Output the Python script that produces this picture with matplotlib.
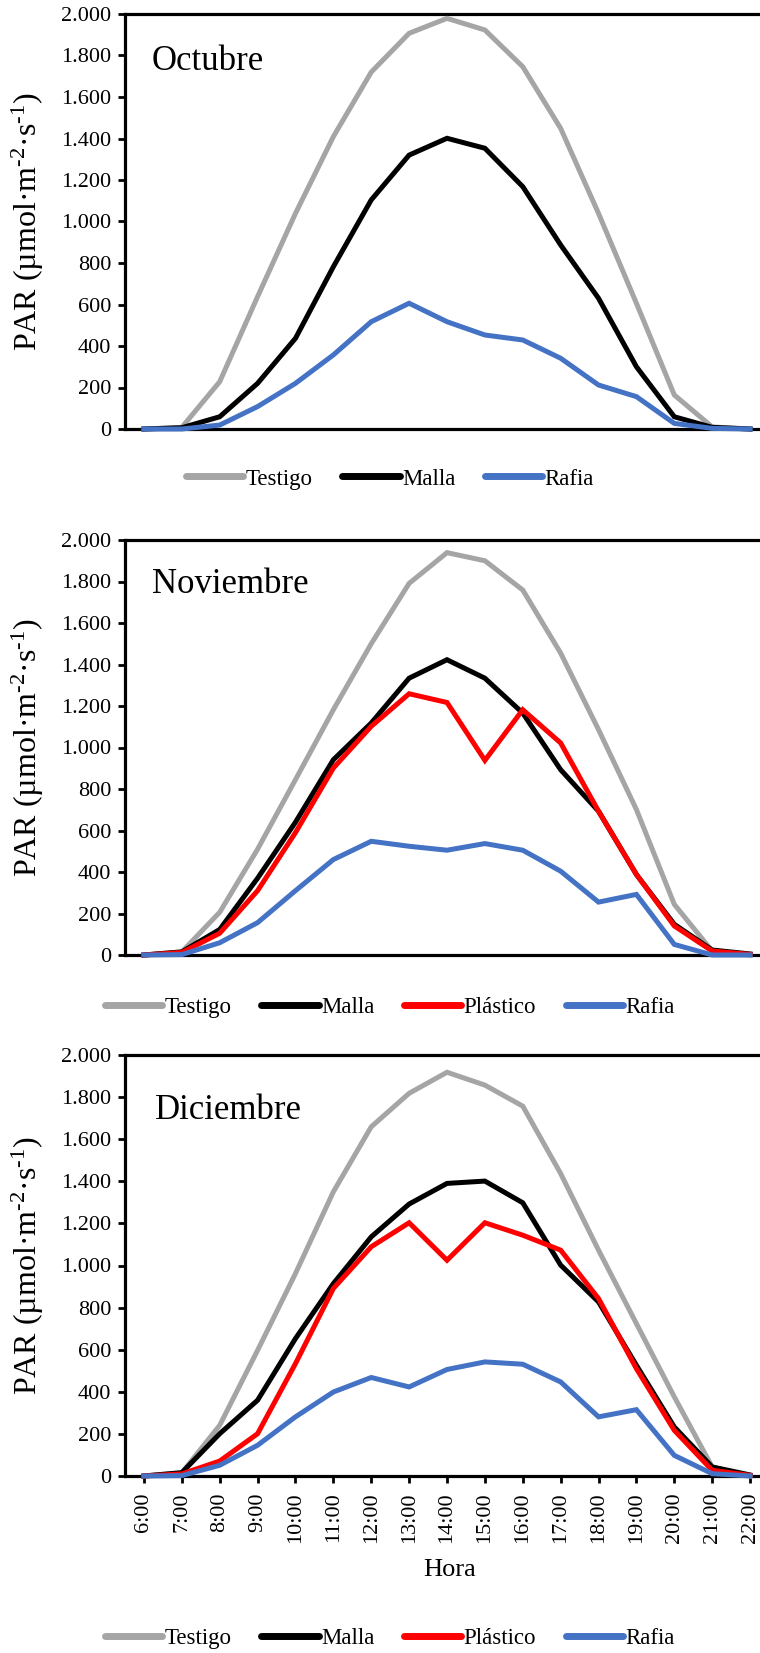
import matplotlib
matplotlib.use("Agg")
import matplotlib.pyplot as plt
from matplotlib.ticker import FuncFormatter
from matplotlib.lines import Line2D

plt.rcParams['font.family'] = ['Liberation Serif', 'DejaVu Serif']
plt.rcParams['mathtext.fontset'] = 'custom'
plt.rcParams['mathtext.rm'] = 'Liberation Serif'
plt.rcParams['mathtext.it'] = 'Liberation Serif:italic'
plt.rcParams['mathtext.bf'] = 'Liberation Serif:bold'

# ---------------- data ----------------
hours = ["6:00", "7:00", "8:00", "9:00", "10:00", "11:00", "12:00", "13:00", "14:00",
         "15:00", "16:00", "17:00", "18:00", "19:00", "20:00", "21:00", "22:00"]

oct_testigo = [0, 8, 228, 638, 1039, 1409, 1720, 1907, 1979, 1923, 1746, 1449, 1039, 606, 164, 10, 0]
oct_malla   = [0, 6, 59, 220, 437, 782, 1104, 1320, 1401, 1353, 1168, 887, 630, 300, 59, 8, 0]
oct_rafia   = [0, 0, 19, 108, 220, 357, 517, 606, 517, 453, 429, 341, 212, 156, 27, 3, 0]

nov_testigo  = [0, 15, 206, 510, 845, 1182, 1500, 1791, 1939, 1900, 1759, 1455, 1086, 701, 244, 19, 0]
nov_malla    = [0, 15, 123, 370, 640, 941, 1118, 1334, 1423, 1334, 1166, 893, 693, 388, 148, 24, 5]
nov_plastico = [0, 12, 105, 310, 590, 901, 1102, 1259, 1217, 938, 1182, 1022, 693, 388, 140, 19, 3]
nov_rafia    = [0, 2, 59, 156, 310, 460, 548, 524, 505, 537, 505, 404, 255, 292, 51, 0, 0]

dic_testigo  = [0, 15, 241, 597, 962, 1350, 1659, 1818, 1918, 1857, 1757, 1437, 1073, 724, 376, 43, 0]
dic_malla    = [0, 16, 201, 360, 653, 914, 1136, 1292, 1390, 1401, 1298, 1002, 827, 526, 233, 43, 5]
dic_plastico = [0, 10, 71, 201, 534, 891, 1089, 1203, 1025, 1203, 1144, 1073, 843, 510, 217, 27, 3]
dic_rafia    = [0, 2, 51, 146, 281, 399, 468, 423, 506, 542, 531, 447, 281, 315, 98, 11, 0]

months = ["Octubre", "Noviembre", "Diciembre"]
series_names = ["Testigo", "Malla", "Plástico", "Rafia"]
colors = {"Testigo": "#A5A5A5", "Malla": "#000000", "Plástico": "#FF0000", "Rafia": "#4472C4"}

panels = [
    {"Testigo": oct_testigo, "Malla": oct_malla, "Rafia": oct_rafia},
    {"Testigo": nov_testigo, "Malla": nov_malla, "Plástico": nov_plastico, "Rafia": nov_rafia},
    {"Testigo": dic_testigo, "Malla": dic_malla, "Plástico": dic_plastico, "Rafia": dic_rafia},
]

# ---------------- layout ----------------
W, H = 760, 1653
fig = plt.figure(figsize=(W / 100, H / 100), dpi=100)

ax_left, ax_right = 125, 769
boxes = [(14, 429), (540, 955), (1055, 1476)]
legend_y = [479, 1007, 1638]
title_pos = [(0.042, 0.865), (0.042, 0.872), (0.046, 0.848)]
ylabel_text = r"PAR (µmol·m$^{\text{-}2}$·s$^{\text{-}1}$)"

fmt = FuncFormatter(lambda v, p: f"{int(v):,}".replace(",", "."))
x = list(range(len(hours)))

for i, (data, (top, bot)) in enumerate(zip(panels, boxes)):
    ax = fig.add_axes([ax_left / W, 1 - bot / H, (ax_right - ax_left) / W, (bot - top) / H])
    handles = []
    for name in series_names:
        if name in data:
            ln, = ax.plot(x, data[name], color=colors[name], lw=3.6, solid_joinstyle='miter',
                          clip_on=False, zorder=3, label=name)
            handles.append(ln)
    ax.set_xlim(-0.5, 16.5)
    ax.set_ylim(0, 2000)
    ax.set_yticks(range(0, 2001, 200))
    ax.yaxis.set_major_formatter(fmt)
    ax.tick_params(axis='y', direction='out', length=5, width=2, labelsize=16, pad=5)
    for s in ['left', 'top', 'bottom']:
        ax.spines[s].set_linewidth(2.3)
        ax.spines[s].set_color('black')
    ax.spines['right'].set_visible(False)
    ax.set_xticks(x)
    if i < 2:
        ax.tick_params(axis='x', length=0, labelbottom=False)
    else:
        ax.set_xticklabels(hours, rotation=90)
        ax.tick_params(axis='x', direction='out', length=5, width=2, labelsize=16, pad=7)
        fig.text(450 / W, 1 - 1570 / H, "Hora", ha='center', va='center', fontsize=19)
    ax.text(title_pos[i][0], title_pos[i][1], months[i], transform=ax.transAxes,
            fontsize=25, ha='left', va='baseline')
    fig.text(28 / W, 1 - ((top + bot) / 2) / H, ylabel_text, rotation=90,
             ha='center', va='center', fontsize=23)
    leg_handles = [Line2D([0], [0], color=h.get_color(), lw=5, solid_capstyle='round') for h in handles]
    fig.legend(leg_handles, [h.get_label() for h in handles], loc='center',
               bbox_to_anchor=(390 / W, 1 - legend_y[i] / H), ncol=len(handles),
               frameon=False, fontsize=16.5, handlelength=2.5, handletextpad=0.1,
               columnspacing=1.3)

fig.savefig("out.png", dpi=100)
